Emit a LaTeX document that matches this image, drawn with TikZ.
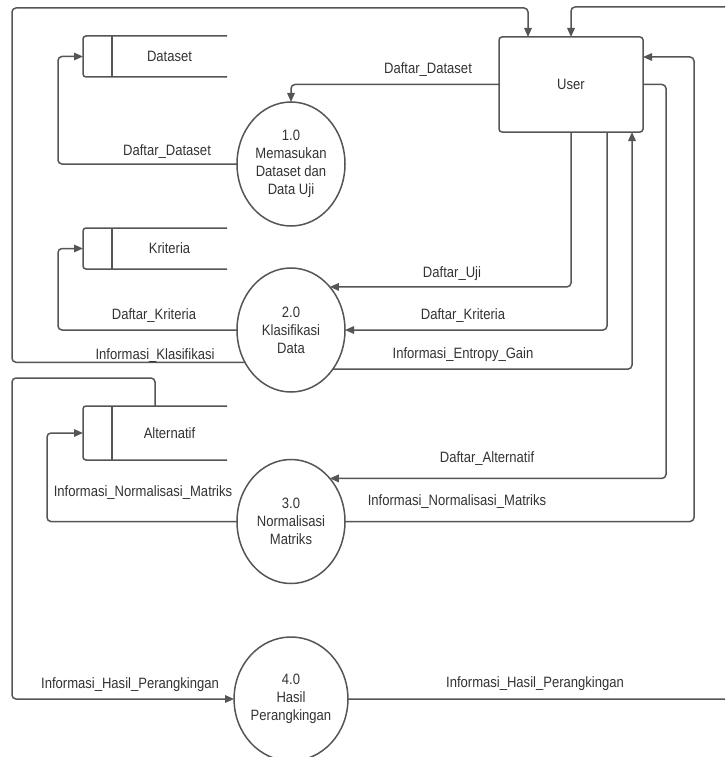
\documentclass[tikz,border=0pt]{standalone}
\usepackage{fontspec}
\setmainfont{Liberation Sans}[FakeStretch=0.87]
\usetikzlibrary{arrows.meta,shapes.geometric,calc}
\definecolor{linegray}{HTML}{555555}
\definecolor{textgray}{HTML}{333333}

\begin{document}
\begin{tikzpicture}[x=1pt,y=-1pt,
  every node/.style={text=textgray, font=\fontsize{15}{18}\selectfont},
  proc/.style={ellipse, draw=linegray, line width=1.5pt, minimum width=108pt,
    minimum height=124pt, inner sep=0pt, outer sep=0pt, align=center},
  entity/.style={draw=linegray, line width=1.5pt, rounded corners=3pt,
    minimum width=144pt, minimum height=95pt, outer sep=0pt},
  storebox/.style={minimum width=144pt, outer sep=0pt, inner sep=0pt},
  storeline/.style={draw=linegray, line width=1.5pt, rounded corners=3pt},
  flow/.style={draw=linegray, line width=1.5pt, rounded corners=4pt,
    -{Triangle[length=9pt,width=7.5pt]}},
  lbl/.style={inner sep=0pt}]

\clip (0,0) rectangle (725,757);
\fill[white] (0,0) rectangle (725,757);

% external entity
\node[entity] (user) at (571,84.5) {User};

% processes
\node[proc] (p1) at (291,164) {1.0\\Memasukan\\Dataset dan\\Data Uji};
\node[proc] (p2) at (291,330) {2.0\\Klasifikasi\\Data};
\node[proc] (p3) at (291,521.5) {3.0\\Normalisasi\\Matriks};
\node[proc] (p4) at (291,699) {4.0\\Hasil\\Perangkingan};

% data stores (open on the right)
\node[storebox, minimum height=41pt] (ds1) at (155,56.5) {};
\node[storebox, minimum height=41pt] (ds2) at (155,248.5) {};
\node[storebox, minimum height=54pt] (ds3) at (155,433) {};
\foreach \s/\t in {ds1/Dataset, ds2/Kriteria, ds3/Alternatif}{
  \draw[storeline] (\s.north east) -- (\s.north west) -- (\s.south west) -- (\s.south east);
  \draw[storeline] ([xshift=29pt]\s.north west) -- ([xshift=29pt]\s.south west);
  \node (\s-text) at ($(\s.center)+(14.5,0)$) {\t};
}

% helper coordinates for routing
\coordinate (farL) at (12,8);
\coordinate (farR) at (760,7);
\coordinate (ra) at ($(user.east)+(23,0)$);

% flows
\draw[flow] (user.west) -| (p1.north);
\draw[flow] (p1.west) -| ($(ds1.west)+(-25,0)$) -- (ds1.west);
\draw[flow] (p2.west) -| ($(ds2.west)+(-25,0)$) -- (ds2.west);
\draw[flow] (p3.west) -| ($(ds3.west)+(-36,0)$) -- (ds3.west);
\draw[flow] (p2.215) -| (farL) -| ([xshift=-43pt]user.north);
\draw[flow] (ds3.north) |- (12,378) |- (p4.west);
\draw[flow] (p4.east) -| (farR) -| (user.north);
\draw[flow] (p3.east) -| ($(user.east)+(51,-27.5)$) -- ([yshift=27.5pt]user.east);
\draw[flow] (user.east) -| (ra |- p3.48) -- (p3.48);
\draw[flow] (user.south) |- (p2.48);
\draw[flow] ([xshift=36pt]user.south) |- (p2.east);
\draw[flow] (p2.-43) -| ([xshift=61pt]user.south);

% flow labels
\node[lbl] (l1) at (428,70) {Daftar\_Dataset};
\node[lbl] (l2) at (167,152) {Daftar\_Dataset};
\node[lbl] (l3) at (154,316) {Daftar\_Kriteria};
\node[lbl] (l4) at (155,356) {Informasi\_Klasifikasi};
\node[lbl] (l5) at (452,274) {Daftar\_Uji};
\node[lbl] (l6) at (463,316) {Daftar\_Kriteria};
\node[lbl] (l7) at (463,355) {Informasi\_Entropy\_Gain};
\node[lbl] (l8) at (487,459) {Daftar\_Alternatif};
\node[lbl] (l9) at (457,502) {Informasi\_Normalisasi\_Matriks};
\node[lbl] (l10) at (143,493) {Informasi\_Normalisasi\_Matriks};
\node[lbl] (l11) at (130,685) {Informasi\_Hasil\_Perangkingan};
\node[lbl] (l12) at (535,684) {Informasi\_Hasil\_Perangkingan};
\end{tikzpicture}
\end{document}
